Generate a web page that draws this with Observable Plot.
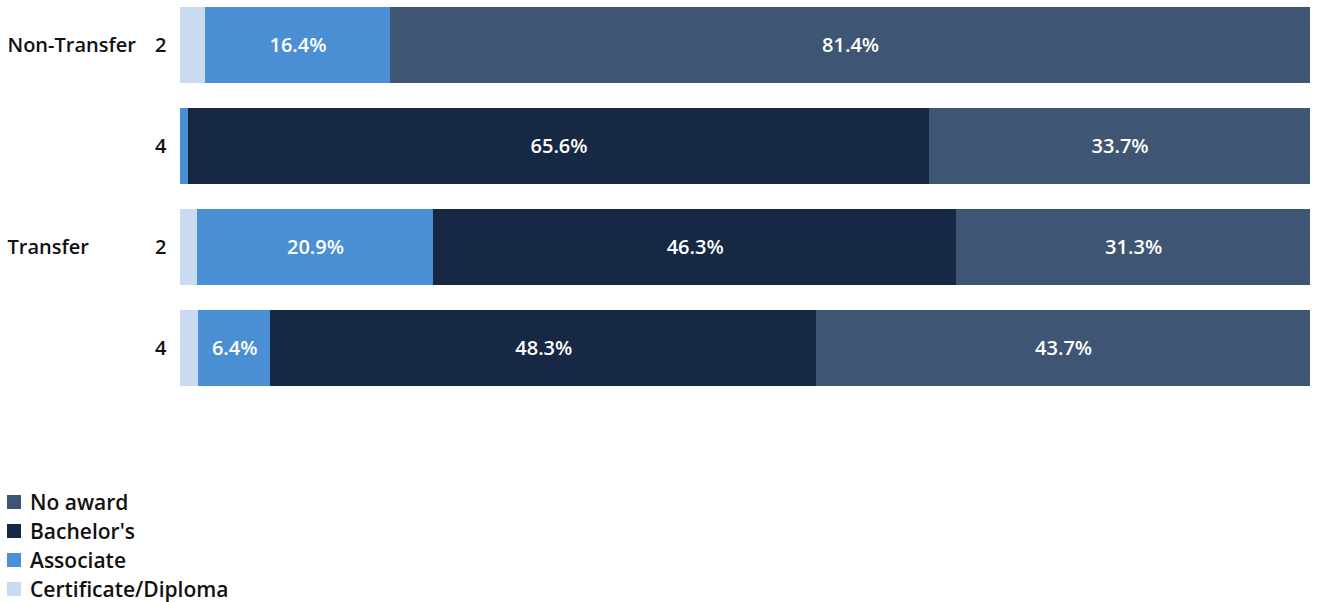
<!DOCTYPE html>
<html>
<head>
<meta charset="utf-8">
<script src="https://cdn.jsdelivr.net/npm/d3@7"></script>
<script src="https://cdn.jsdelivr.net/npm/@observablehq/plot@0.6"></script>
<style>
  body { margin: 0; background: #fff; font-family: "Open Sans", sans-serif; }
  #legend { margin-top: 94px; padding-left: 7px; }
  .item { display: flex; align-items: center; height: 29px; font-size: 21px; font-weight: 600; color: #111; }
  .sw { width: 14px; height: 14px; margin-right: 9px; }
</style>
</head>
<body>
<div id="chart"></div>
<div id="legend"></div>
<script>
const rows = ["Non-Transfer|2", "Non-Transfer|4", "Transfer|2", "Transfer|4"];
const groups = ["Non-Transfer", "Non-Transfer", "Transfer", "Transfer"];
const sectors = ["2", "4", "2", "4"];
const categories = ["Certificate/Diploma", "Associate", "Bachelor's", "No award"];
const colors = ["#c8dbf1", "#4a8fd4", "#162844", "#3f5574"];
const certificate = [2.2, 0, 1.5, 1.6];
const associate = [16.4, 0.7, 20.9, 6.4];
const bachelors = [0, 65.6, 46.3, 48.3];
const noAward = [81.4, 33.7, 31.3, 43.7];
const seriesValues = [certificate, associate, bachelors, noAward];

const data = [];
rows.forEach((r, i) => {
  categories.forEach((c, j) => {
    data.push({row: r, group: groups[i], sector: sectors[i], category: c, value: seriesValues[j][i]});
  });
});
const groupFirst = rows.map((r, i) => ({row: r, group: groups[i], show: i === 0 || groups[i] !== groups[i - 1]})).filter(d => d.show);

const plot = Plot.plot({
  width: 1324,
  height: 393,
  marginLeft: 180,
  marginRight: 14,
  marginTop: 0,
  marginBottom: 0,
  style: {fontFamily: "Open Sans", fontSize: "20px", fontWeight: 600, color: "#111"},
  x: {domain: [0, 100], axis: null},
  y: {domain: rows, paddingInner: 0.2475, paddingOuter: 0.0693, round: false, label: null,
      tickSize: 0, tickPadding: 14, tickFormat: d => d.split("|")[1]},
  color: {domain: categories, range: colors},
  marks: [
    Plot.barX(data, {x: "value", y: "row", fill: "category", shapeRendering: "crispEdges"}),
    Plot.text(data, Plot.stackX({x: "value", y: "row", z: "category",
      text: d => d.value >= 5 ? d.value.toFixed(1) + "%" : "", fill: "white", fontSize: 20, fontWeight: 600})),
    Plot.text(groupFirst, {y: "row", text: "group", frameAnchor: "left", dx: -173, textAnchor: "start", fill: "#111", fontSize: 20, fontWeight: 600})
  ]
});
document.getElementById("chart").appendChild(plot);

const legend = document.getElementById("legend");
[...categories].reverse().forEach(c => {
  const item = document.createElement("div");
  item.className = "item";
  const sw = document.createElement("div");
  sw.className = "sw";
  sw.style.background = colors[categories.indexOf(c)];
  const t = document.createElement("span");
  t.textContent = c;
  item.appendChild(sw);
  item.appendChild(t);
  legend.appendChild(item);
});
</script>
</body>
</html>
